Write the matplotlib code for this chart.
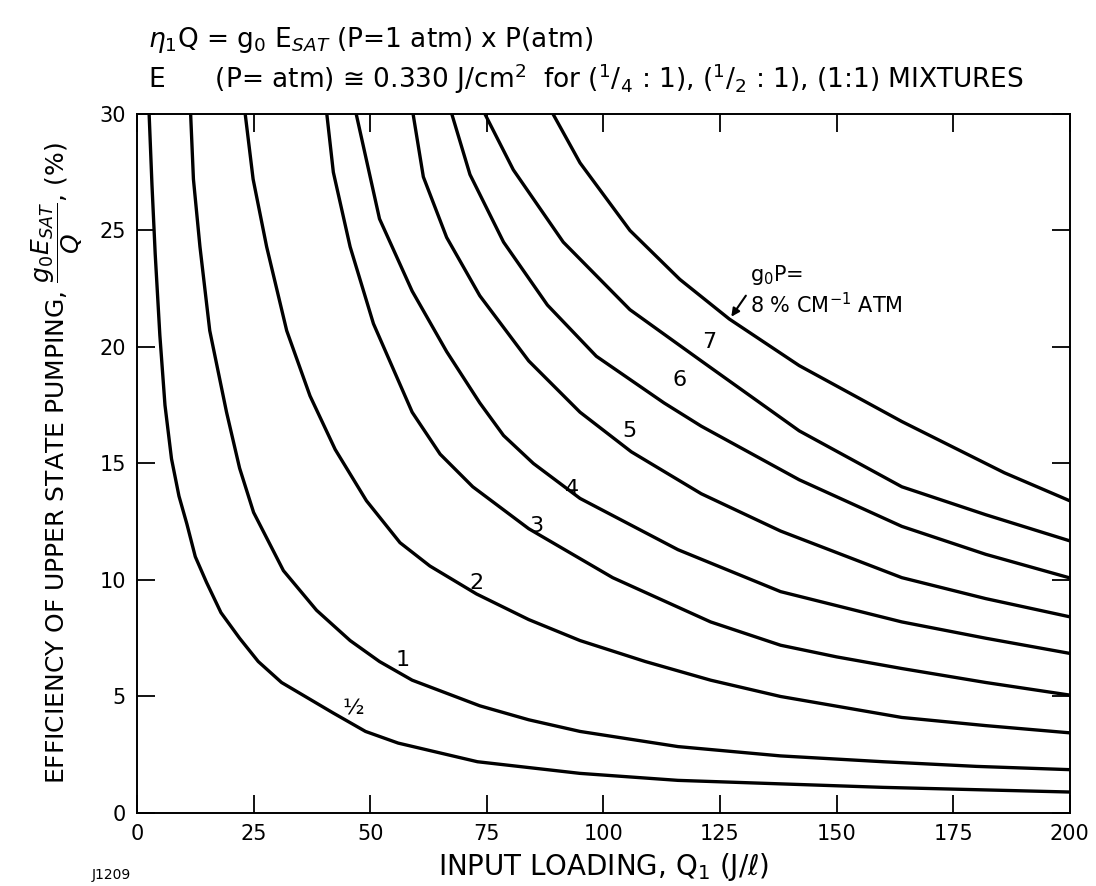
import numpy as np
import matplotlib.pyplot as plt

plt.rcParams['font.family'] = ['DejaVu Sans']
plt.rcParams['mathtext.fontset'] = 'dejavusans'

# curves: input loading Q (J/l) vs efficiency (%)
q_half = [2.6, 3.2, 3.9, 4.9, 6.0, 7.4, 9.0, 10.7, 12.5, 14.9, 18, 22, 26, 31, 42, 49, 56, 73, 95, 116, 138, 160, 180, 200]
e_half = [30, 27, 24, 20.5, 17.5, 15.2, 13.6, 12.4, 11.0, 9.9, 8.6, 7.5, 6.5, 5.6, 4.3, 3.5, 3.0, 2.2, 1.7, 1.4, 1.25, 1.1, 1.0, 0.9]

q_1 = [11.5, 12.1, 13.5, 15.6, 19.2, 22, 25, 31.4, 38.5, 45.7, 52, 59, 73.5, 84, 95, 116, 138, 160, 180, 200]
e_1 = [30, 27.2, 24.3, 20.7, 17.2, 14.8, 12.9, 10.4, 8.7, 7.4, 6.5, 5.7, 4.6, 4.0, 3.5, 2.85, 2.45, 2.2, 2.0, 1.86]

q_2 = [23.2, 24.9, 27.8, 32.1, 37.1, 42.5, 49.2, 56.4, 62.8, 72.8, 84, 95, 109, 123, 138, 164, 182, 200]
e_2 = [30, 27.2, 24.3, 20.7, 17.9, 15.6, 13.4, 11.6, 10.6, 9.4, 8.3, 7.4, 6.5, 5.7, 5.0, 4.1, 3.75, 3.44]

q_3 = [40.7, 42.1, 45.7, 50.7, 59, 65, 72, 84, 102, 123, 138, 150, 164, 182, 200]
e_3 = [30, 27.5, 24.3, 21.0, 17.2, 15.4, 14.0, 12.2, 10.1, 8.2, 7.2, 6.7, 6.2, 5.6, 5.06]

q_4 = [47, 52, 59, 66.4, 73.5, 78.6, 85, 95, 116, 138, 164, 182, 200]
e_4 = [30, 25.5, 22.4, 19.8, 17.6, 16.2, 15.0, 13.5, 11.3, 9.5, 8.2, 7.5, 6.85]

q_5 = [59.2, 61.4, 66.4, 73.5, 84, 95, 106, 121, 138, 164, 182, 200]
e_5 = [30, 27.3, 24.7, 22.2, 19.4, 17.2, 15.5, 13.7, 12.1, 10.1, 9.2, 8.42]

q_6 = [67.5, 71.4, 78.6, 88, 98.5, 113, 121, 142, 164, 182, 200]
e_6 = [30, 27.4, 24.5, 21.8, 19.6, 17.6, 16.6, 14.3, 12.3, 11.1, 10.09]

q_7 = [74.6, 80.7, 91.4, 105.7, 121, 142, 164, 182, 200]
e_7 = [30, 27.6, 24.5, 21.6, 19.4, 16.4, 14.0, 12.8, 11.68]

q_8 = [89.2, 95, 105.7, 116.4, 127, 142, 164, 186, 200]
e_8 = [30, 27.9, 25.0, 22.9, 21.2, 19.2, 16.8, 14.6, 13.4]

curve_labels = ['½', '1', '2', '3', '4', '5', '6', '7']
label_q = [46.3, 57, 72.8, 85.7, 93.2, 105.7, 116.4, 122.8]
label_e = [4.5, 6.55, 9.85, 12.3, 13.9, 16.4, 18.6, 20.2]

fig = plt.figure(figsize=(10.96, 8.86), dpi=100)
ax = fig.add_axes([0.125, 0.0824, 0.851, 0.789])

for q, e in [(q_half, e_half), (q_1, e_1), (q_2, e_2), (q_3, e_3), (q_4, e_4),
             (q_5, e_5), (q_6, e_6), (q_7, e_7), (q_8, e_8)]:
    ax.plot(q, e, color='black', lw=2.4, solid_capstyle='round', solid_joinstyle='round')

for t, x, y in zip(curve_labels, label_q, label_e):
    ax.text(x, y, t, fontsize=16, ha='center', va='center')

ax.text(131.4, 23.1, r'g$_0$P=', fontsize=15, ha='left', va='center')
ax.text(131.4, 21.8, r'8 % CM$^{-1}$ ATM', fontsize=15, ha='left', va='center')
ax.annotate('', xy=(127.1, 21.2), xytext=(130.9, 22.3),
            arrowprops=dict(arrowstyle='-|>', color='black', lw=1.5, mutation_scale=12))

ax.set_xlim(0, 200)
ax.set_ylim(0, 30)
ax.set_xticks(np.arange(0, 201, 25))
ax.set_yticks(np.arange(0, 31, 5))
ax.tick_params(direction='in', length=13, width=1.3, top=True, right=True,
               labelsize=15, pad=8)
for s in ax.spines.values():
    s.set_linewidth(1.4)

ax.set_xlabel(r'INPUT LOADING, Q$_1$ (J/$\ell$)', fontsize=20, labelpad=5)
ax.set_ylabel(r'EFFICIENCY OF UPPER STATE PUMPING, $\dfrac{g_0 E_{SAT}}{Q}$, (%)',
              fontsize=18, labelpad=10)

fig.text(0.135, 0.955, r'$\eta_1$Q = g$_0$ E$_{SAT}$ (P=1 atm) x P(atm)',
         fontsize=19, ha='left', va='center')
fig.text(0.135, 0.911, r'E      (P= atm) ≅ 0.330 J/cm$^2$  for ($^1$/$_4$ : 1), ($^1$/$_2$ : 1), (1:1) MIXTURES',
         fontsize=19, ha='left', va='center')
fig.text(0.084, 0.0124, 'J1209', fontsize=10, ha='left', va='center')

fig.savefig('out.png', dpi=100)
